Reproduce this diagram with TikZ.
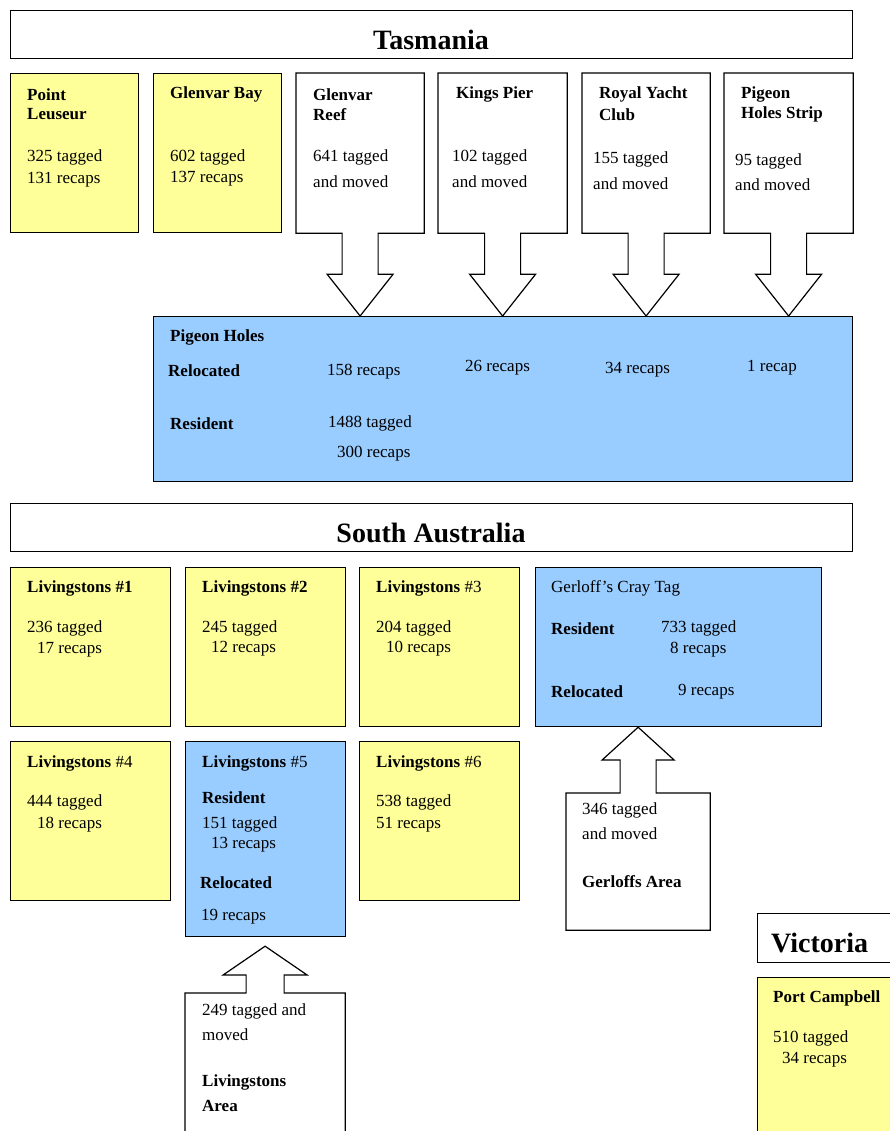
\documentclass[tikz,border=0pt]{standalone}
\usepackage{fontspec}
\setmainfont{Liberation Serif}
\usetikzlibrary{calc}
\definecolor{padyellow}{HTML}{FFFF99}
\definecolor{padblue}{HTML}{99CCFF}

\begin{document}
\begin{tikzpicture}[x=1pt,y=-1pt,
  box/.style={anchor=north west,inner sep=0pt,line width=1.2pt},
  site/.style={box,draw},
  txt/.style={anchor=west,inner sep=0pt,yshift=-1.5pt,font=\fontsize{17}{20}\selectfont},
  head/.style={inner sep=0pt,font=\fontsize{28}{32}\selectfont\bfseries},
  blockarrow/.style={draw,fill=white,line width=1.2pt,line join=miter}]

\clip (0,0) rectangle (890,1131);

% Tasmania
\node[site,fill=white,minimum width=842,minimum height=48] (tas) at (10,10) {};
\node[head] (tastitle) at (431,40) {Tasmania};

\foreach \n/\x in {pl/10,gb/153}
  \node[site,fill=padyellow,minimum width=128,minimum height=159] (\n) at (\x,73) {};
\foreach \n/\x/\w in {reef/296/127,pier/438/128,yacht/582/127,strip/724/128}
  \node[box,minimum width=\w,minimum height=159] (\n) at (\x,73) {};

\node[site,fill=padblue,minimum width=699,minimum height=165] (ph) at (153,316) {};

\foreach \n in {reef,pier,yacht,strip}
  \draw[blockarrow] (\n.south west) -- (\n.north west) -- (\n.north east) -- (\n.south east)
    -- ($(\n.south)+(18,0)$) -- ++(0,41) -- ++(15,0) -- (\n.south |- ph.north)
    -- ($(\n.south)+(-33,41)$) -- ++(15,0) -- ++(0,-41) -- cycle;

% South Australia
\node[site,fill=white,minimum width=842,minimum height=48] (sa) at (10,503) {};
\node[head] (satitle) at (431,533) {South Australia};

\foreach \n/\x/\y/\h/\c in {l1/10/567/159/padyellow,l2/185/567/159/padyellow,l3/359/567/159/padyellow,
    l4/10/741/159/padyellow,l5/185/741/195/padblue,l6/359/741/159/padyellow}
  \node[site,fill=\c,minimum width=160,minimum height=\h] (\n) at (\x,\y) {};
\node[site,fill=padblue,minimum width=286,minimum height=159] (gc) at (535,567) {};

\node[box,minimum width=143,minimum height=136] (ga) at (566,793) {};
\node[box,minimum width=159,minimum height=150] (la) at (185,993) {};

\draw[blockarrow] (ga.north west) -- ($(ga.north)+(-18,0)$) -- ++(0,-33) -- ++(-18,0)
  -- (ga.north |- gc.south) -- ($(ga.north)+(36,-33)$) -- ++(-18,0) -- ++(0,33)
  -- (ga.north east) -- (ga.south east) -- (ga.south west) -- cycle;
\draw[blockarrow] (la.north west) -- ($(la.north)+(-19,0)$) -- ++(0,-18) -- ++(-23,0)
  -- ($(la.north |- l5.south)+(0,9)$) -- ($(la.north)+(42,-18)$) -- ++(-23,0) -- ++(0,18)
  -- (la.north east) -- (la.south east) -- (la.south west) -- cycle;

% Victoria
\node[site,fill=white,minimum width=150,minimum height=49] (vic) at (757,913) {};
\node[head,anchor=west] (victitle) at (771,943) {Victoria};
\node[site,fill=padyellow,minimum width=150,minimum height=170] (pc) at (757,977) {};

\foreach \x/\y/\s [count=\i] in {
  27/93/\textbf{Point}, 27/113/\textbf{Leuseur}, 27/156/325 tagged, 27/178/131 recaps,
  170/93/\textbf{Glenvar Bay}, 170/156/602 tagged, 170/177/137 recaps,
  313/93/\textbf{Glenvar}, 313/113/\textbf{Reef}, 313/156/641 tagged, 313/180/and moved,
  456/93/\textbf{Kings Pier}, 452/156/102 tagged, 452/180/and moved,
  599/93/\textbf{Royal Yacht}, 599/113/\textbf{Club}, 593/158/155 tagged, 593/182/and moved,
  741/93/\textbf{Pigeon}, 741/113/\textbf{Holes Strip}, 735/160/95 tagged, 735/183/and moved,
  170/336/\textbf{Pigeon Holes}, 168/369/\textbf{Relocated}, 327/370/158 recaps,
  465/366/26 recaps, 605/368/34 recaps, 747/366/1 recap,
  170/422/\textbf{Resident}, 328/422/1488 tagged, 337/452/300 recaps,
  27/587/\textbf{Livingstons \#1}, 27/627/236 tagged, 37/648/17 recaps,
  202/587/\textbf{Livingstons \#2}, 202/627/245 tagged, 211/647/12 recaps,
  376/587/\textbf{Livingstons} \#3, 376/627/204 tagged, 386/647/10 recaps,
  551/587/Gerloff’s Cray Tag, 551/627/\textbf{Resident}, 661/627/733 tagged, 670/648/8 recaps,
  551/690/\textbf{Relocated}, 678/690/9 recaps,
  27/762/\textbf{Livingstons} \#4, 27/801/444 tagged, 37/823/18 recaps,
  202/762/\textbf{Livingstons} \#5, 202/796/\textbf{Resident}, 202/823/151 tagged, 211/843/13 recaps,
  200/881/\textbf{Relocated}, 201/915/19 recaps,
  376/762/\textbf{Livingstons} \#6, 376/801/538 tagged, 376/823/51 recaps,
  582/809/346 tagged, 582/832/and moved, 582/880/\textbf{Gerloffs Area},
  202/1010/249 tagged and, 202/1033/moved, 202/1081/\textbf{Livingstons}, 202/1104/\textbf{Area},
  773/997/\textbf{Port Campbell}, 773/1037/510 tagged, 782/1058/34 recaps}
  \node[txt] (t\i) at (\x,\y) {\s};

\end{tikzpicture}
\end{document}
